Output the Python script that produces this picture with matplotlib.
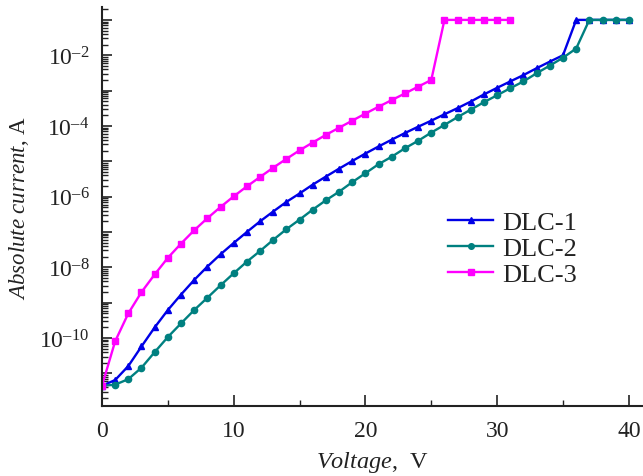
import matplotlib
matplotlib.use("Agg")
import matplotlib.pyplot as plt
from matplotlib.ticker import FixedLocator, FixedFormatter, LogLocator, NullFormatter, MultipleLocator

plt.rcParams['font.family'] = ['Liberation Serif', 'DejaVu Serif']
plt.rcParams['mathtext.fontset'] = 'custom'
plt.rcParams['mathtext.rm'] = 'Liberation Serif'
plt.rcParams['mathtext.it'] = 'Liberation Serif:italic'
plt.rcParams['mathtext.default'] = 'regular'

# Data (voltage in V, absolute current in A)
v1 = list(range(0, 41))
dlc1 = [4.47e-12, 6.5e-12, 1.62e-11, 5.8e-11, 2.0e-10, 6.2e-10, 1.7e-9, 4.4e-9, 1.05e-8, 2.34e-8,
        4.9e-8, 1.0e-7, 2.0e-7, 3.8e-7, 7.1e-7, 1.23e-6, 2.19e-6, 3.7e-6, 6.2e-6, 1.02e-5,
        1.66e-5, 2.63e-5, 4.1e-5, 6.3e-5, 9.5e-5, 1.41e-4, 2.14e-4, 3.2e-4, 4.9e-4, 7.8e-4,
        1.2e-3, 1.82e-3, 2.75e-3, 4.3e-3, 6.6e-3, 1.0e-2, 0.1, 0.1, 0.1, 0.1, 0.1]
v2 = list(range(0, 41))
dlc2 = [4.47e-12, 4.8e-12, 6.9e-12, 1.45e-11, 4.0e-11, 1.07e-10, 2.6e-10, 6.2e-10, 1.38e-9, 3.1e-9,
        6.8e-9, 1.45e-8, 2.9e-8, 6.0e-8, 1.2e-7, 2.24e-7, 4.3e-7, 7.9e-7, 1.38e-6, 2.57e-6,
        4.6e-6, 8.3e-6, 1.35e-5, 2.34e-5, 3.8e-5, 6.5e-5, 1.07e-4, 1.78e-4, 2.9e-4, 4.7e-4,
        7.4e-4, 1.17e-3, 1.82e-3, 3.1e-3, 5.1e-3, 8.5e-3, 1.55e-2, 0.1, 0.1, 0.1, 0.1]
v3 = list(range(0, 32))
dlc3 = [4.47e-12, 8.1e-11, 5.0e-10, 2.0e-9, 6.3e-9, 1.86e-8, 4.7e-8, 1.12e-7, 2.45e-7, 5.1e-7,
        1.02e-6, 1.95e-6, 3.6e-6, 6.6e-6, 1.17e-5, 2.04e-5, 3.4e-5, 5.6e-5, 8.9e-5, 1.41e-4,
        2.24e-4, 3.5e-4, 5.4e-4, 8.3e-4, 1.29e-3, 2.0e-3, 0.1, 0.1, 0.1, 0.1, 0.1, 0.1]

y_major = [1e-12, 1e-11, 1e-10, 1e-9, 1e-8, 1e-7, 1e-6, 1e-5, 1e-4, 1e-3, 1e-2, 1e-1]
y_labels = ['', '', '$10^{\u201310}$', '', '$10^{\u20138}$', '', '$10^{\u20136}$', '',
            '$10^{\u20134}$', '', '$10^{\u20132}$', '']
x_ticks = [0, 10, 20, 30, 40]

fig = plt.figure(figsize=(6.43, 4.77), dpi=100)
ax = fig.add_axes([0.1586, 0.1468, 0.8399, 0.8362])

ax.plot(v1, dlc1, color='#0000e6', lw=1.7, marker='^', ms=5, label='DLC-1')
ax.plot(v2, dlc2, color='#008080', lw=1.7, marker='o', ms=4.5, label='DLC-2')
ax.plot(v3, dlc3, color='#ff00ff', lw=1.7, marker='s', ms=4.3, label='DLC-3')

ax.set_yscale('log')
ax.set_xlim(0, 41)
ax.set_ylim(1.2e-12, 0.23)

ax.yaxis.set_major_locator(FixedLocator(y_major))
ax.yaxis.set_major_formatter(FixedFormatter(y_labels))
ax.yaxis.set_minor_locator(LogLocator(base=10, subs=range(2, 10), numticks=50))
ax.yaxis.set_minor_formatter(NullFormatter())
ax.xaxis.set_major_locator(FixedLocator(x_ticks))
ax.xaxis.set_minor_locator(MultipleLocator(5))

for s in ['top', 'right']:
    ax.spines[s].set_visible(False)
for s in ['left', 'bottom']:
    ax.spines[s].set_linewidth(1.5)
    ax.spines[s].set_color('#222222')

ax.tick_params(which='major', direction='in', length=8, width=1.2, labelsize=17, colors='#222222')
ax.tick_params(axis='x', which='major', pad=10)
ax.tick_params(axis='y', which='major', length=7, pad=9)
ax.tick_params(which='minor', direction='in', length=4, width=1.0, colors='#222222')

ax.set_xlabel(r'$\it{Voltage}$,  V', fontsize=17.5, color='#222222', labelpad=6)
ax.set_ylabel(r'$\it{Absolute\ current}$, A', fontsize=16.5, color='#222222', labelpad=6)

leg = ax.legend(loc='upper left', bbox_to_anchor=(0.641, 0.490), frameon=False, fontsize=19,
                handlelength=1.7, handletextpad=0.35, labelspacing=0.1, borderpad=0, borderaxespad=0,
                markerscale=0.9)
for t in leg.get_texts():
    t.set_color('#222222')

fig.savefig('out.png', dpi=100)
